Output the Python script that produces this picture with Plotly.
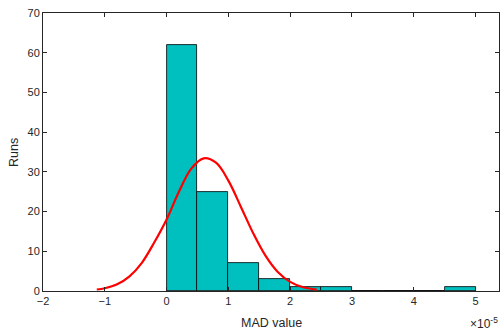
import plotly.graph_objects as go

# Histogram of MAD values (x in units of 1e-5)
bin_centers = [0.25, 0.75, 1.25, 1.75, 2.25, 2.75, 3.25, 3.75, 4.25, 4.75]
counts = [62, 25, 7, 3, 1, 1, 0, 0, 0, 1]
bin_width = 0.5

# Fitted normal curve
fit_x = [-1.13, -1.0, -0.8, -0.6, -0.4, -0.2, 0.0, 0.2, 0.4, 0.6, 0.8, 1.0,
         1.2, 1.4, 1.6, 1.8, 2.0, 2.2, 2.43]
fit_y = [0.37, 0.7, 1.7, 3.7, 7.1, 12.2, 18.0, 25.0, 30.8, 33.4, 32.3, 27.8,
         21.3, 14.6, 8.9, 4.8, 2.3, 1.0, 0.34]

x_ticks = [-2, -1, 0, 1, 2, 3, 4, 5]
y_ticks = [0, 10, 20, 30, 40, 50, 60, 70]

family = "Liberation Sans, Arial, sans-serif"
axcol = "#262626"
tick_font = dict(family=family, size=11, color=axcol)
label_font = dict(family=family, size=12.5, color=axcol)

fig = go.Figure()
fig.add_trace(go.Bar(
    x=bin_centers, y=counts, width=bin_width,
    marker=dict(color="#00BFBF", line=dict(color="black", width=0.8)),
    showlegend=False,
))
fig.add_trace(go.Scatter(
    x=fit_x, y=fit_y, mode="lines",
    line=dict(color="#FF0000", width=2.2, shape="spline"),
    showlegend=False,
))

fig.update_layout(
    width=500, height=332,
    margin=dict(l=43, r=1, t=13, b=41),
    paper_bgcolor="white", plot_bgcolor="white",
    font=tick_font, bargap=0,
    xaxis=dict(range=[-2, 5.38], tickvals=x_ticks, ticks="inside", ticklen=4,
               tickcolor=axcol, showline=True, linecolor=axcol, linewidth=1,
               mirror="ticks", showgrid=False, zeroline=False, tickfont=tick_font),
    yaxis=dict(range=[0, 70], tickvals=y_ticks, ticks="inside", ticklen=4,
               tickcolor=axcol, showline=True, linecolor=axcol, linewidth=1,
               mirror="ticks", showgrid=False, zeroline=False, tickfont=tick_font),
    annotations=[
        dict(text="MAD value", x=0.5, y=-0.082, xref="paper", yref="paper",
             xanchor="center", yanchor="top", showarrow=False, font=label_font),
        dict(text="Runs", x=-0.0636, y=0.5, xref="paper", yref="paper",
             xanchor="center", yanchor="middle", textangle=-90, showarrow=False,
             font=label_font),
        dict(text="×10<sup>-5</sup>", x=1.003, y=-0.08, xref="paper", yref="paper",
             xanchor="right", yanchor="top", showarrow=False,
             font=dict(family=family, size=12, color=axcol)),
    ],
)

fig.write_html("out.html")
